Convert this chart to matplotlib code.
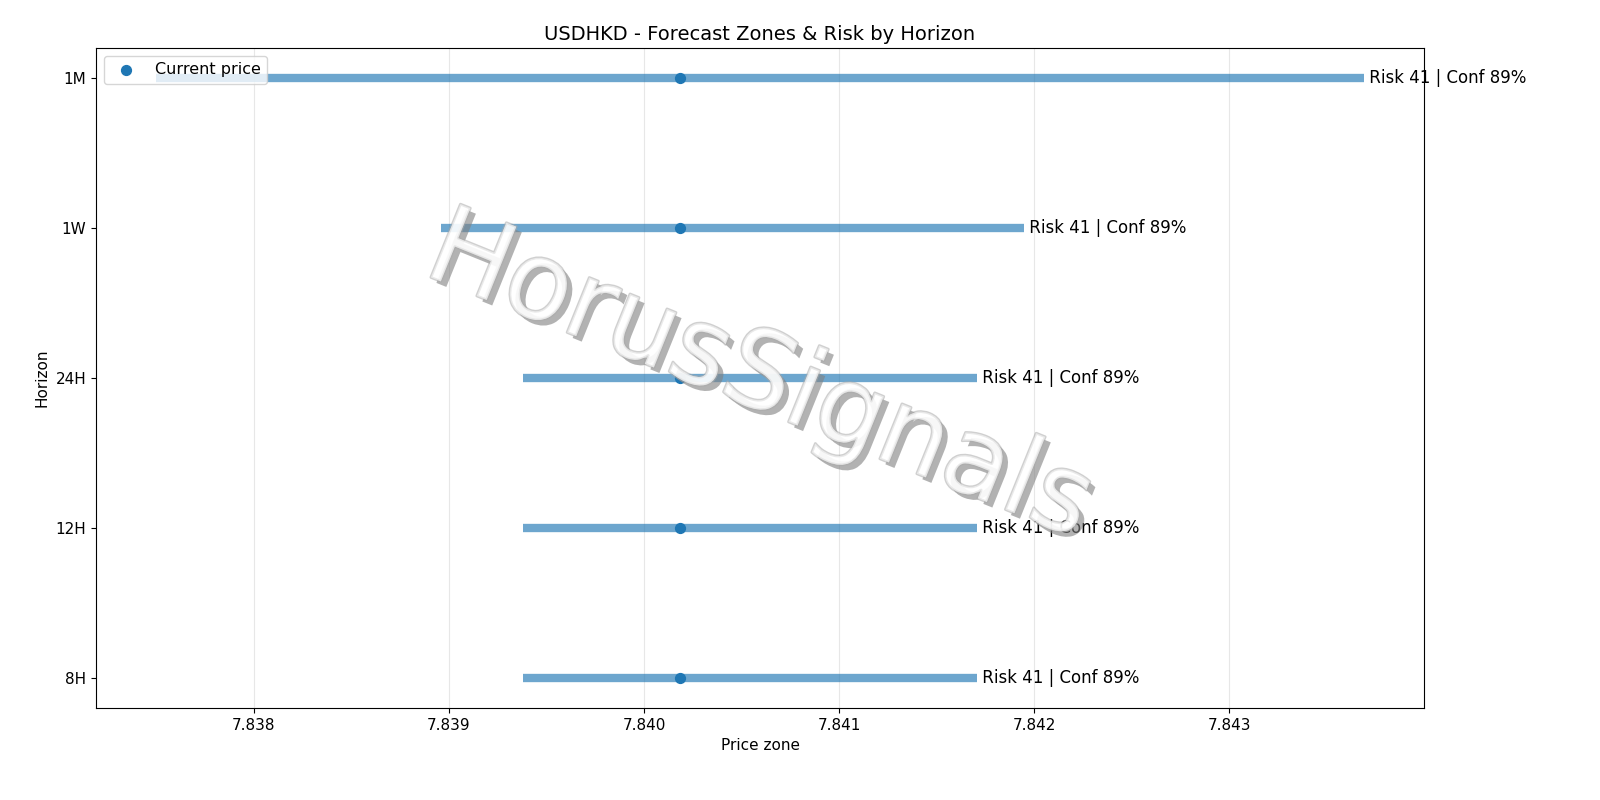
import numpy as np
import matplotlib
matplotlib.use("Agg")
import matplotlib.pyplot as plt
import matplotlib.patheffects as pe

horizons = ["8H", "12H", "24H", "1W", "1M"]
low = [7.83938, 7.83938, 7.83938, 7.83896, 7.83750]
high = [7.84171, 7.84171, 7.84171, 7.84195, 7.84369]
current = 7.840185
risk = [41, 41, 41, 41, 41]
conf = [89, 89, 89, 89, 89]

fig, ax = plt.subplots(figsize=(16, 8), dpi=100)
y = np.arange(len(horizons))
ax.hlines(y, low, high, color="#1f77b4", alpha=0.65, lw=6)
ax.scatter([current] * len(y), y, color="#1f77b4", s=50, zorder=3, label="Current price")
for yi, h, r, c in zip(y, high, risk, conf):
    ax.text(h, yi, f" Risk {r} | Conf {c}%", va="center", ha="left", fontsize=12)

ax.set_yticks(y)
ax.set_yticklabels(horizons, fontsize=11)
ax.set_xticks([7.838, 7.839, 7.840, 7.841, 7.842, 7.843])
ax.tick_params(axis="x", labelsize=11)
ax.xaxis.set_major_formatter(matplotlib.ticker.FormatStrFormatter("%.3f"))
ax.grid(axis="x", alpha=0.3)
ax.set_xlabel("Price zone", fontsize=11)
ax.set_ylabel("Horizon", fontsize=11)
ax.set_title("USDHKD - Forecast Zones & Risk by Horizon", fontsize=14)
ax.legend(loc="upper left", fontsize=11.5)

ax.text(0.5, 0.5, "HorusSignals", transform=ax.transAxes, ha="center", va="center",
        fontsize=78, rotation=-22, color="white", alpha=0.55, zorder=5,
        path_effects=[pe.withSimplePatchShadow(offset=(4, -4), shadow_rgbFace="gray", alpha=0.6),
                      pe.Stroke(linewidth=2, foreground="#aaaaaa"), pe.Normal()])

fig.subplots_adjust(left=0.06, right=0.89, top=0.94, bottom=0.115)
fig.savefig("out.png")
